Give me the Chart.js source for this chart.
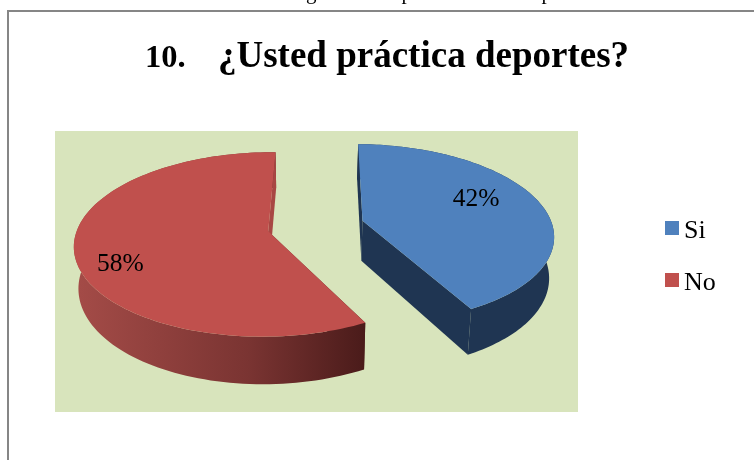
<!DOCTYPE html>
<html lang="es">
<head>
<meta charset="utf-8">
<title>Deportes</title>
<style>
    html, body { margin: 0; padding: 0; background: #fff; overflow: hidden; }
    #page { position: relative; width: 754px; height: 460px; overflow: hidden; }
    #frame { position: absolute; left: 7px; top: 10px; width: 800px; height: 500px; border: 2px solid #868686; }
    #sportsChart { position: absolute; left: 0; top: 0; }
</style>
<script src="https://cdn.jsdelivr.net/npm/chart.js@4"></script>
</head>
<body>
<div id="page">
    <div id="frame"></div>
    <canvas id="sportsChart" width="754" height="460"></canvas>
</div>
<script>
const titleNumber = '10.';
const titleQuestion = '¿Usted práctica deportes?';
const categories = ['Si', 'No'];
const percentages = [42, 58];
const captionLetters = ['g', 'p', 'p'];

const sliceColors = ['#4F81BD', '#C0504D'];
const serifFont = '"Liberation Serif", "Times New Roman", serif';

// Vista en perspectiva del pastel: punto de fuga y escala del disco
const view = { vanishX: 304, vanishY: -401, depth0: 0.00159505, depthSlope: 0.000226, spread: 0.303, shiftU: 0.0618, explode: 0.2557 };
const extrude = { shrink: 0.98, drop: 0.0645 };

function projectTop(u, v) {
    const dist = 1 / (view.depth0 - view.depthSlope * v);
    return { x: view.vanishX + view.spread * u * dist, y: view.vanishY + dist };
}

function projectBase(p) {
    return {
        x: view.vanishX + (p.x - view.vanishX) * extrude.shrink,
        y: p.y + (p.y - view.vanishY) * extrude.drop
    };
}

// Centro del sector separado del resto, en unidades de radio
function sliceCenter(arc) {
    const mid = (arc.startAngle + arc.endAngle) / 2;
    return {
        u: view.shiftU + Math.cos(mid) * view.explode,
        v: Math.sin(mid) * view.explode
    };
}

function pointOnSlice(center, angle, radius) {
    return projectTop(center.u + Math.cos(angle) * radius, center.v + Math.sin(angle) * radius);
}

function fillPolygon(ctx, points, style) {
    ctx.fillStyle = style;
    ctx.beginPath();
    points.forEach((p, i) => (i ? ctx.lineTo(p.x, p.y) : ctx.moveTo(p.x, p.y)));
    ctx.closePath();
    ctx.fill();
}

function sideStyle(ctx, index) {
    if (index === 0) return '#1F3552';
    const gradient = ctx.createLinearGradient(72, 0, 366, 0);
    gradient.addColorStop(0, '#A54C48');
    gradient.addColorStop(0.6, '#7A3432');
    gradient.addColorStop(1, '#4A1B1A');
    return gradient;
}

function drawSlice(ctx, arc, index) {
    const center = sliceCenter(arc);
    const apex = projectTop(center.u, center.v);
    const steps = 120;
    const rim = [];
    for (let i = 0; i <= steps; i++) {
        const angle = arc.startAngle + (arc.endAngle - arc.startAngle) * i / steps;
        rim.push(pointOnSlice(center, angle, 1));
    }
    const side = sideStyle(ctx, index);
    const radial = index === 0 ? '#1F3552' : '#A84743';

    // La cara inicial queda detrás del borde curvo; la final asoma junto a la tapa
    fillPolygon(ctx, [apex, rim[0], projectBase(rim[0]), projectBase(apex)], side);
    fillPolygon(ctx, rim.concat(rim.map(projectBase).reverse()), side);
    fillPolygon(ctx, [apex, rim[steps], projectBase(rim[steps]), projectBase(apex)], radial);
    fillPolygon(ctx, [apex].concat(rim), arc.options.backgroundColor);
}

const plotBackground = {
    id: 'plotBackground',
    beforeDraw(chart, args, opts) {
        const { ctx, chartArea } = chart;
        ctx.save();
        ctx.fillStyle = opts.color;
        ctx.fillRect(chartArea.left, chartArea.top, chartArea.width, chartArea.height);
        ctx.restore();
    }
};

// Devuelve false para que Chart.js no pinte los arcos planos
const pie3d = {
    id: 'pie3d',
    beforeDatasetsDraw(chart) {
        const { ctx } = chart;
        ctx.save();
        chart.getDatasetMeta(0).data.forEach((arc, i) => drawSlice(ctx, arc, i));
        ctx.restore();
        return false;
    }
};

const sliceLabels = {
    id: 'sliceLabels',
    afterDraw(chart, args, opts) {
        const { ctx } = chart;
        ctx.save();
        ctx.font = opts.font;
        ctx.fillStyle = '#000';
        ctx.textAlign = 'center';
        ctx.textBaseline = 'middle';
        chart.getDatasetMeta(0).data.forEach((arc, i) => {
            const center = sliceCenter(arc);
            const spot = opts.spots[i];
            const p = projectTop(center.u + spot.u, center.v + spot.v);
            ctx.fillText(percentages[i] + '%', p.x, p.y);
        });
        ctx.restore();
    }
};

// El número de la lista va un poco más pequeño que la pregunta
const headline = {
    id: 'headline',
    afterDraw(chart, args, opts) {
        const { ctx } = chart;
        ctx.save();
        ctx.fillStyle = '#000';
        ctx.textBaseline = 'alphabetic';
        ctx.font = opts.numberFont;
        ctx.fillText(titleNumber, opts.numberX, opts.y);
        ctx.font = opts.questionFont;
        ctx.fillText(titleQuestion, opts.questionX, opts.y);
        ctx.restore();
    }
};

// Línea de texto del documento, cortada por el borde superior
const pageCaption = {
    id: 'pageCaption',
    afterDraw(chart, args, opts) {
        const { ctx } = chart;
        ctx.save();
        ctx.font = opts.font;
        ctx.fillStyle = '#000';
        ctx.textBaseline = 'alphabetic';
        captionLetters.forEach((letter, i) => ctx.fillText(letter, opts.xs[i], opts.y));
        ctx.restore();
    }
};

// Leyenda a la derecha, con el texto más cerca del cuadro que la de Chart.js
const sideLegend = {
    id: 'sideLegend',
    afterDraw(chart, args, opts) {
        const { ctx } = chart;
        ctx.save();
        ctx.font = opts.font;
        ctx.textBaseline = 'alphabetic';
        categories.forEach((name, i) => {
            const y = opts.top + i * opts.step;
            ctx.fillStyle = sliceColors[i];
            ctx.fillRect(opts.left, y, opts.box, opts.box);
            ctx.fillStyle = '#000';
            ctx.fillText(name, opts.left + opts.box + opts.gap, y + opts.box + 2.5);
        });
        ctx.restore();
    }
};

new Chart(document.getElementById('sportsChart'), {
    type: 'pie',
    data: {
        labels: categories,
        datasets: [{ data: percentages, backgroundColor: sliceColors, borderWidth: 0 }]
    },
    options: {
        responsive: false,
        animation: false,
        rotation: 1,
        layout: { padding: { left: 55, right: 176, top: 131, bottom: 48 } },
        plugins: {
            legend: { display: false },
            tooltip: { enabled: false },
            plotBackground: { color: '#D8E4BC' },
            sliceLabels: {
                font: '25.5px ' + serifFont,
                spots: [{ u: 0.635, v: -0.249 }, { u: -0.724, v: 0.346 }]
            },
            headline: {
                numberFont: 'bold 32.5px ' + serifFont,
                questionFont: 'bold 37px ' + serifFont,
                numberX: 145,
                questionX: 218,
                y: 66.5
            },
            pageCaption: { font: '21px ' + serifFont, xs: [306, 401.5, 541.5], y: -1.5 },
            sideLegend: { font: '26px ' + serifFont, left: 665, top: 221, step: 52, box: 14, gap: 5 }
        }
    },
    plugins: [plotBackground, pie3d, sliceLabels, headline, pageCaption, sideLegend]
});
</script>
</body>
</html>
